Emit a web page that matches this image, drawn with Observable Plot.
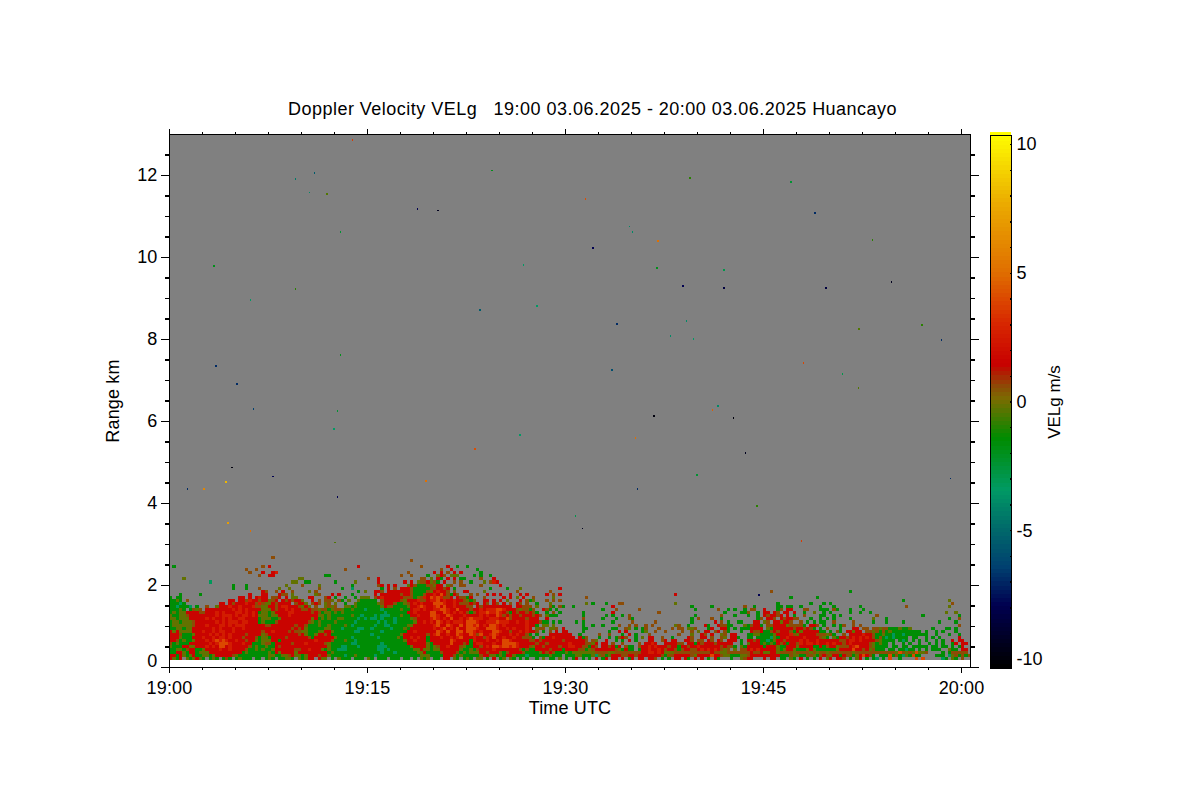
<!DOCTYPE html>
<html><head><meta charset="utf-8">
<script src="https://cdn.jsdelivr.net/npm/d3@7"></script>
<script src="https://cdn.jsdelivr.net/npm/@observablehq/plot@0.6"></script>
<style>
html,body{margin:0;background:#fff;width:1200px;height:800px;overflow:hidden}
#wrap{position:relative;width:1200px;height:800px}
#wrap svg{position:absolute;left:0;top:0;background:transparent}
#title{position:absolute;left:0;top:99px;width:1185px;text-align:center;font:18px "Liberation Sans",sans-serif;letter-spacing:0.48px;color:#000;white-space:pre}
</style></head><body>
<div id="wrap"><div id="title"></div></div>
<script>
const titleText = "Doppler Velocity VELg   19:00 03.06.2025 - 20:00 03.06.2025 Huancayo";
const timeTicks = [0, 15, 30, 45, 60];
const timeLabels = ["19:00", "19:15", "19:30", "19:45", "20:00"];
const timeMinor = [2.5,5,7.5,10,12.5,17.5,20,22.5,25,27.5,32.5,35,37.5,40,42.5,47.5,50,52.5,55,57.5];
const rangeTicks = [0,2,4,6,8,10,12];
const rangeMinor = [0.5,1,1.5,2.5,3,3.5,4.5,5,5.5,6.5,7,7.5,8.5,9,9.5,10.5,11,11.5,12.5];
const barTicks = [-10,-5,0,5,10];
const barMinor = [-9,-8,-7,-6,-4,-3,-2,-1,1,2,3,4,6,7,8,9];
const colorStops = [-10.35,-8,-6.5,-5,-3.5,-1.5,0,0.5,1.35,3,5,7.5,10.35];
const colorRamp = ["#000000","#000050","#004070","#006a6a","#009a64","#008c00","#7a6c00","#8c4c06","#c80000","#d82800","#e07000","#eaa800","#ffff00"];
// velocity (m/s) of each letter in the gate tables
const codeLetters = ["t","g","o","b","r","R","O"];
const codeValues = [-3.3,-1.6,-0.3,0.5,1.5,2.5,3.9];
const firstGateKm = 0.16, gateKm = 0.075, rayMin = 0.25;

// gate tables: 15-min blocks, one string per range gate, top gate first, last string = lowest gate
const blockA = [
".......... .......... .......... .b........ .......... ..........",
".......... .......... .......... .......... .......... ..........",
".......... .......... .......... .......... .......... ..........",
".g........ .......... ........b. r......... .......... .......r..",
".......... .......... ...b..b... .......... .......... ...b......",
".......... .......... ....b...r. .rR....... .......... ..........",
".......... .......... .......b.. rr........ .......gg. ..........",
"....o..... .......... .......... .........o o......... ..........",
".......... ..t....... .......... .......oo. .gg....... g.....o...",
".......... .........g ...g...... .....o.... b....o.... .....g....",
".......... .........g ...g...b.. ...o..o... .....b.... ..g..t....",
".......... .......... ........rb ..b.r..b.. ..o.b..... .......g.o",
"...g.....g .......... ....r...rr ...rbb.o.. ....ob...r .r...g....",
"g.gg...... .......... .rr.r.rRrr .bbr.r.oo. ..rr...br. g..g..g.oo",
"ggog.b.... ........rr .rrbRrrbrr obr.rbrbrr o..r.b.bbo .bg.o..ogg",
"gggtg..... .....rr.rb rrrRrrbRbo orbrrrr.br ro.brb.ob. o..g..oggg",
"ggtgggt.g. .b..orrrRr rRrrrRbboo rrbrRRrrrb oro.b..obo b..oogoggg",
"gggog.gbob .rrrrrrrrR rRrRrrrroo orbrrRrRrr bbrbbobbgo bboggogggt",
"gogoorrrrb brrrRrRrrr RRrRrRrgoo gorrrrRRrr rrrbrbgoog ogoggggggg",
"oggoobrrrr rrrrRrRRRr RrRRrRrooo goorrrRrrr rrrrroogog gggggoggtg",
"oogooorrrr rRrRrrRrRr rRRrrrrgoo oggorrrrrr rrrorgogog googgggtgt",
"googooobrr rrrrRrRrRR RrRRrrrgog ggbrrrrrrr rrbogogggg ogggggtggg",
"goooooobrr rRrrrRRrRr RRRrrrrrrb brrrrrrrbr rbgggoggog gggogtgggg",
"ggoogoorrr rrrRrRrrrR rrRrrrrrrr rrrrrrrbrb rogggggoog ggtggggttg",
"roroooorrr RrrRrRRrrR rrrrrrrrbr rRrrrrbrbb oogggoorro ggggggttgg",
"rrrbgggorr rrRrRrRrRr rrrbrrrrob rrrrrrrrrb roggorrbrg gggggggggg",
"rrrogggrrr RrrRrRRrRr rrbrrrbgoo grrrrbrrrr rrbgrrrrrr oggggtgggg",
"rrbgoggorr rRrRORORrr Rrrbrrogoo orrgrrrrrr rrrrRrrrrb gggoggtggg",
"bgogggrrrr rrRrROOORr rrRrrgggob bgrrrrrbrr rRrrrrrbog gggggttggg",
"ogggrroorr rRrRrOOrRr rrrrbgoggo ggrbrrrrrr rrrrrrrrog ggttgggtgg",
"ggoogbrrgg orrrrRrrRr rrrbggogog gorrrrrrbb rrRrrrogog gtttgggggg",
"ggrrogrrgo oorrrrrrrr rrgogggggg ogrorrrror rrrrrrrrgo gggggggggg",
"rrgrogorgg oogorrrrrb oggggggggg ooggoobroo gorrrbrrog gggtggoggg",
"rogr.ogoro g.gog.gbg. goggg.gg.g og.ggoog.o gorr.roo.g .oggg.ggg."
];
const blockB = [
".......... .......... .......... .......... .......... ..........",
".......... ...b...... .......... .......... .......... ..........",
".......... .......... .......... .......... .......... ..........",
".......... ......b... ....r..g.. g......... .......... ..........",
".......... .......... ..b..r.... ...g...... .......... ..........",
".......... ..b....... r.r.b.r.r. ....g..... .......... ..........",
".......... b..b....g. .orb.ooo.. ..g.g..g.. .......... ..........",
"b..r...... ......bb.o .rg.r.r.gg ....b...r. .......... ..........",
"...r...... .r.r.obbro bg.r..b.b. .g...o.bRr .......... ..........",
"...br.r.r. ..orbgggbb orr.ob..bb ....b..... r......... ..........",
"....g.r.b. rrrbgggggb brrbr.g... .......g.. ..g...o... ........r.",
"..rrb.rrrr rrrbggggbo rRrrb.b..r r....o.... .....b.... .....b....",
"..r.rrrrrr brrbgggbrr RrOrbgrb.. .b.b..r.r. r..r..r.r. ....r.b.r.",
"o.brRrrrrr rbbbgobRrO RORbbr.rbb gr...b.... .r.r.o.r.. b.....o...",
"ggg.brrrrr borrrRbbrR ROrRrrRrrb ogo..rr.r. r.o...r.bg o...b.b.b.",
"gggobrrrbg gobrRrRrrr OOORrrRrbb brbr.rb.rb .r.b.rb.b. .g...o....",
"ggggorbbgg ggorrRORrr ROrOrrRrrr bb.rbrrrrr rrrr.rrbbb .o...bg.bg",
"ggggtggggg oggrRRrRrr RROORrrOrr rbrrRrRRRO ORrrrbobbg b..rbg.g..",
"gggggtgggg ggrrRrrrrO OrrORrRrRr bgbrRRORRO Rrbgrbrrbr bg..g.b.g.",
"ggtgtttggg oggrrRrrrO ORrrORrrrR rrrrRrRrrO Rbrbrrbrrr brb.oggg..",
"gttgtgggtg gggobrrrrR ORrRrOrrRr RORRRrrRRR rrObrrrrbr rr..r.....",
"gggtgtggtg ggggorrRrR rORrRrRRRr OOORrrRRRO RRRrrRrrRr rrbgg.g.g.",
"ggtggttggg ggoorrrrrr ROrrORrrOr OOROrRrOOR rRrrrrrrRr rg.oo.o...",
"gtgggggtgg gogrrrrrrr RrROrRrOrr OOORrrOOOR rrRrRrrrRr .obb.oob.r",
"ggggtggggg ggrrRrrrrr rORrOrrOOr OORrRrrrOO RrrbrrRrRr rb.g.b.r.r",
"gtgggggggg orrrrrrrbr ROrrRrrORr rORbOrrROR rrrRrRrrbg .g...rrrrr",
"gggtgggggo grrRrRrrgr rrRrrRrROr rrRrrbRrOr rRrrRrrbbb g.bgrrRrrr",
"gggggggggg gorrRrrrgr rrrrrORrrr rgRrrrRrrR rOORrrrrrb brbrrrrrrb",
"ggggtggggg ggrrrrrrog rrrrrOrrrb rgrRRrrrRr rOOOORrrrr rbrrbrrrrr",
"gggtttgggg gggorrrrog obrrRrrrbo ggrrbrRrOO ROORORrrrb orrbrrrrbr",
"gggttgtggg ggggooroog oorrrrrrog gogbrrrrRr rrrrrrbgbg grrrrbrrrg",
"ggggtgggtg gggggoorgg ggbrrrrbgo gooorrbrrr ogbrrrrbgg ggorbrbggg",
"ggtggggggg ggggggooog gggrrrbgog ggggbrroog ogrrogggtg gggggoggg.",
"og.ggg.ggg .gg.g.ogo. gg.rr.og.g og.oo.g.r .go.og.g.g ..g.o.gg.o"
];
const blockC = [
".......... .......... .......... ...r...... .......... ..........",
"......b... .......... .......... .......... .......... ..........",
".......... .......... .......... .......... .......... ..........",
"......o.g. ..g...bb.. .......... ...o...... .......... ..........",
"..g....... ....r..... .......... ........g. ....g..... ....b..g..",
".......... .g...b.... ..b....... .........g ......b..g .g..g.bb..",
".....g.... ....r..... ........b. .......... ........g. ...ggb..g.",
".....g.... ..g.g..g.b .......... .........g .......b.. .g...g..g.",
".....b.... .g...g...b g......... ........g. b...b..g.. ........gb",
"...g.g.... ....g..... b......b.. ........g. .....r.b.g ..gg...rr.",
".....g..g. .g....b..b .b..b.b... ...ob..g.. ..rg..rbbg g...ogbrrg",
".....gg... ....gg..bo .g.gb...b. ..b.bb.oob ...gr..rrg .g.gggrrrr",
"r....g.... ...g..r.r. ...go..b.. b....b..b. o.rr.br.bg ...g..rbbr",
"rr..g..... b..b...g.r .g...b.... ....b...o. .rb.r..ob. rr...ggoog",
"rrr.rgb... g..g.gbrb. .g.o.rr..b ..g....rb. .rr.b..bo. rrg..gg.gg",
"rrrrrrb.bo ..r..g.g.r .g...rr..b r.rr..rrb. bb.rb.rb.r rr.g.rrbrg",
"rRrrrrbbor .rr.b..b.. ..b.rrRr.. rrrrbb.rrg rbrrrbrrrr r..g.orrrg",
"rRRrrbbgrb .rrbrgr.bg g.brrRrRrr rbrrgrrbrr Rrrrrrrbrb bg.ogrrrrr",
"rrrrbbgobr rrrrrbogrg g.grrRrrRr brrbgbrrbb rRrRrRrbob .o.bbrRrRr",
"ogooooooob bbboobbbbb bbbrrRRrRr ooobbbbbbb bbbbrbboob bbbbbbrbbr",
"gggoogggot obgorrrbbr rbrrrrrrrb gbbrrrrrbo rrrrOrrboo gggoobrrrr",
"g.gr.g.g.r .gr.rr.r.g r.rr.rrb.g .g.rr.rg. r.r.g.rg.. .g..obrr.."
];
const blockD = [
"..b....... .......... ......g... .......... .......... .......... ...",
".......... .......... .......... .......... .......... .......... ...",
"........g. ......g... .......... .......... .......... .......... ...",
".......... .......... .......... .......... ..g....... ......o... ...",
"....g..... ....g...g. g......... .......... .......... .......b.. ...",
"....gg.gg. .g.....g.. .g.......g .......... ...b...... ......o... ...",
"r...gb.rr. ..bb...ggg .bg...g... g......... .......... .......... ...",
"rr.rb.rr.r ..g..o..g. g.....g..g ..g....... .......... .....o..o. ...",
"rbrrbr.r.g ..b....gg. .g.g...... ....b..... ........g. .........g ...",
".rrb.rbrrb b...g..g.g .g....g... ...o...g.. .......... ......g..b ...",
"ob.rrorrb. .b.g.g.gg. .b.....b.. ...g...g.. ..g....... ...g....g. ...",
".bbrrrrobb bbg.rrb.g. .g.gb..b.b .......... .......... ......... b..",
".ogrrrrrrb rrbrbg.g.b ...g...rr. bb.bbobbgg goggo..... .g...gg.g. ...",
"ggbrbrrrbg rorrrrrgg. g.bg.rrorr .bbobgbgog gggggggg.g ..g.g...g. ...",
"gggorrrrRb orrrrrbbbo bg..b.rrrr Rrrbggoggt ggtggggggg ..g...g..g ...",
"ggtogrrRrr rrRrrrrbog .ogrrbrRrR rRrbgbgtgt gggg.gg..g .g.g.....r ...",
"gtgorrbrrr rRrRrrRrrr rrrbbrRRrR rrrrbogggg .gtg.g.g.g ..g.g..r.r r..",
"ogogrbrgrr bRrRRrRrrR rRrrbrRrrr rrbogogg.g ..g.g..g.. g.g.g..gr. rr.",
"grrroggrrr orrrrggrgb rrobbbrROr rrbogggg.g g.gg.ggggg .gg.gg.g.g r..",
"rrrrogorro gggorogggg ggorrrrOrr brobggg.gg .ggtgg.g.g .ggg..ogg. rr.",
"oorrobbbbo bbbbobobbo bbbbbbbobb bbbbbbbbbb oOboboOoob ....g.gbbb bb.",
"rrrrrgggbo oggbbogbrb orrgrbbgor Orbg.gggOg bgtogOgg.. ..ggg.tobg bgb",
"r.rr.gg.og .r.g.g.r.o r.rrb.g.or .g.gt.g.O ..g....O.O .....tg.og .b."
];
const blockStarts = [0, 15, 30, 45];

// isolated returns above the boundary layer
const speckTime = [13.83,10.95,9.51,10.57,11.93,18.75,20.34,24.43,31.48,12.92,32.08,34.81,35.04,37,3.37,6.1,9.51,23.52,27.84,26.78,36.93,38.9,42,42,48.9,47.08,39.43,49.73,54.66,53.22,33.9,37.92,39.13,39.66,57,58.45,12.92,3.52,5.11,6.33,12.69,12.46,33.52,36.7,41.1,41.55,42.69,43.6,52.2,48,50.95,52.16,26.55,35.27,23.14,4.73,7.84,1.33,2.61,4.28,12.69,19.43,35.42,39.96,59.13,31.25,30.72,6.1,4.43,47.84,44.5,0.27,44.6,12.5];
const speckRange = [12.84,12.03,11.89,11.55,11.52,11.15,11.11,12.09,11.4,10.59,10.2,10.72,10.59,10.37,9.76,8.93,9.2,8.69,8.79,9.79,9.71,9.27,9.23,9.67,11.06,11.81,11.91,9.23,9.37,10.4,8.35,8.05,8.42,7.98,8.32,7.96,7.59,7.32,6.88,6.27,6.22,5.78,7.22,6.1,6.25,6.34,6.05,5.2,8.22,7.39,7.13,6.78,5.64,5.56,5.29,4.85,4.63,4.32,4.32,4.49,4.12,4.51,4.32,4.66,4.58,3.36,3.66,3.29,3.49,3.05,3.9,2.44,1.73,3.02];
const speckVel = [3.5,-5.5,-4.5,-4,-0.5,-8,-9.5,-2,4,-2.5,-8,-4,-4,5,-2,-3.5,-1,-5.5,-3.5,-3.5,-2,-8,-8.5,-3,-7,-2.5,-1,-8.5,-9.5,-1,-7,-4,-4,-3.5,-1,-7,-2,-7,-7,-6.5,-2.5,-3.5,-6,-10,4.5,-4,-10,-9.5,-0.5,3.8,-3,-0.5,-3.5,5,4,-10,-8,-7,6,8,-8,5,-7,-2.5,-7,-9.5,-3,5,7,3.5,-1,-2,-8,-0.5];

const letterValue = new Map(codeLetters.map((c,i)=>[c,codeValues[i]]));
const gates = [blockA,blockB,blockC,blockD].flatMap((block,b)=>{
  const n = block.length;
  return block.flatMap((row,ri)=>{
    const gate = n-1-ri;
    return [...row.replace(/ /g,"")].flatMap((ch,c)=> letterValue.has(ch) ? [{
      t1: blockStarts[b]+c*rayMin, t2: blockStarts[b]+(c+1)*rayMin,
      r1: firstGateKm+gate*gateKm, r2: firstGateKm+(gate+1)*gateKm,
      v: letterValue.get(ch)
    }] : []);
  });
});
const specks = speckTime.map((t,i)=>({t1:t,t2:t+0.14,r1:speckRange[i],r2:speckRange[i]+0.04,v:speckVel[i]}));

const fontFamily = '"Liberation Sans",sans-serif';
const colorOpts = {type:"linear",domain:colorStops,range:colorRamp,interpolate:"rgb",clamp:true};
const labelOf = new Map(timeTicks.map((t,i)=>[t,timeLabels[i]]));
const blank = () => "";

const main = Plot.plot({
  width:1200,height:800,
  marginLeft:169,marginRight:230,marginTop:134,marginBottom:133,
  style:{background:"transparent",fontFamily,fontSize:"18px",letterSpacing:"0.15px",shapeRendering:"crispEdges",overflow:"visible"},
  x:{domain:[0,60.68],label:null},
  y:{domain:[0,13],label:null},
  color:colorOpts,
  marks:[
    Plot.rect([0],{x1:()=>0,x2:()=>60.68,y1:()=>firstGateKm,y2:()=>13,fill:"#808080"}),
    Plot.rect(gates,{x1:"t1",x2:"t2",y1:"r1",y2:"r2",fill:"v",clip:true}),
    Plot.rect(specks,{x1:"t1",x2:"t2",y1:"r1",y2:"r2",fill:"v",clip:true}),
    Plot.frame({stroke:"#000",strokeWidth:1.5}),
    Plot.axisX({anchor:"bottom",ticks:timeTicks,tickSize:6,tickPadding:8,tickFormat:d=>labelOf.get(d),label:"Time UTC",labelAnchor:"center",labelArrow:"none",labelOffset:46,strokeWidth:1.5}),
    Plot.axisX({anchor:"bottom",ticks:timeMinor,tickSize:3,tickFormat:blank,label:null,strokeWidth:1.5}),
    Plot.axisX({anchor:"top",ticks:timeTicks,tickSize:6,tickFormat:blank,label:null,strokeWidth:1.5}),
    Plot.axisX({anchor:"top",ticks:timeMinor,tickSize:3,tickFormat:blank,label:null,strokeWidth:1.5}),
    Plot.axisY({anchor:"left",ticks:rangeTicks,tickSize:8,tickPadding:4,tickFormat:d=>d===0?"":String(d),label:"Range km",labelAnchor:"center",labelArrow:"none",labelOffset:63,strokeWidth:1.5}),
    Plot.axisY({anchor:"left",ticks:rangeMinor,tickSize:4,tickFormat:blank,label:null,strokeWidth:1.5}),
    Plot.axisY({anchor:"right",ticks:rangeTicks,tickSize:8,tickFormat:blank,label:null,strokeWidth:1.5}),
    Plot.axisY({anchor:"right",ticks:rangeMinor,tickSize:4,tickFormat:blank,label:null,strokeWidth:1.5}),
    Plot.text([0],{x:()=>0,y:()=>0,text:()=>"0",dx:-12,dy:-6,textAnchor:"end",fontSize:18})
  ]
});

const barStep = 0.16;
const barCells = d3.range(colorStops[0],colorStops[colorStops.length-1],barStep).map(v=>({v}));
const bar = Plot.plot({
  width:1200,height:800,
  marginLeft:990,marginRight:189,marginTop:135,marginBottom:132,
  style:{background:"transparent",fontFamily,fontSize:"18px",shapeRendering:"crispEdges",overflow:"visible"},
  x:{domain:[0,1],axis:null},
  y:{domain:[colorStops[0],colorStops[colorStops.length-1]],label:null},
  color:colorOpts,
  marks:[
    Plot.rect(barCells,{x1:()=>0,x2:()=>1,y1:"v",y2:d=>d.v+barStep,fill:"v"}),
    Plot.frame({stroke:"#000",strokeWidth:1.5}),
    Plot.axisY({anchor:"right",ticks:barTicks.concat(barMinor),tickSize:-2,tickFormat:blank,label:null,strokeWidth:1.5}),
    Plot.axisY({anchor:"right",ticks:barTicks,tickSize:0,tickPadding:5,tickFormat:d=>String(d),label:null}),
    Plot.text(["VELg m/s"],{frameAnchor:"right",dx:43,rotate:-90,textAnchor:"middle",fontSize:17})
  ]
});

document.getElementById("title").textContent = titleText;
const wrap = document.getElementById("wrap");
wrap.appendChild(main);
wrap.appendChild(bar);
</script>
</body></html>
